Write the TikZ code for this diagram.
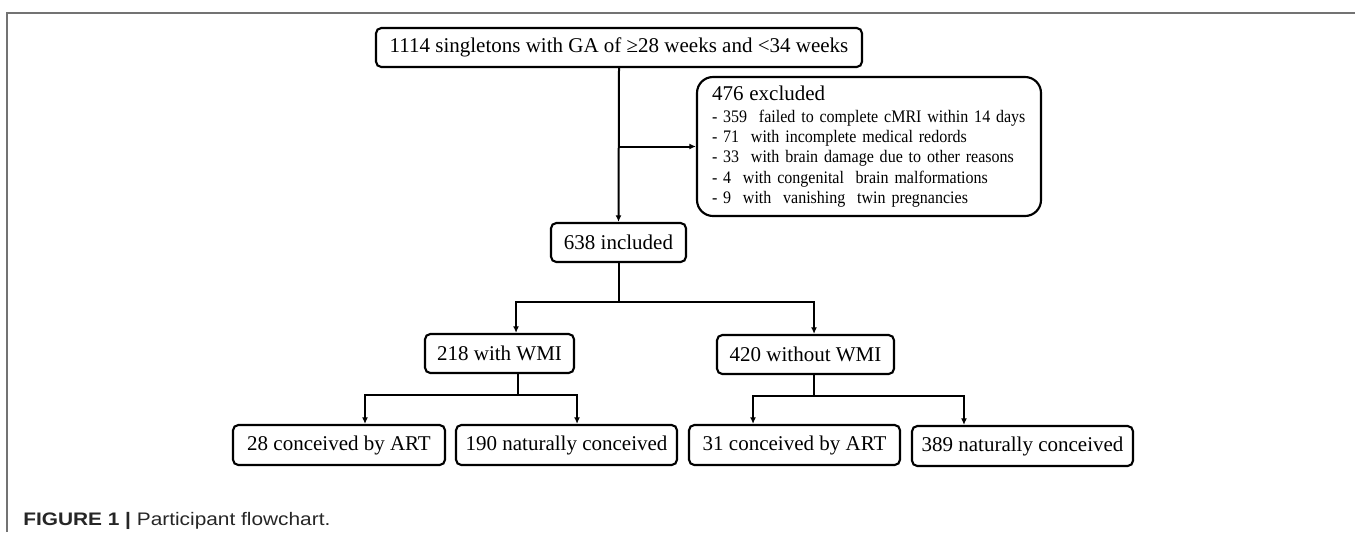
\documentclass[tikz,border=0pt]{standalone}
\usepackage{fontspec}
\setmainfont{Liberation Serif}
\newfontfamily\listfont[FakeStretch=0.91]{Liberation Serif}
\newfontfamily\capfont[FakeStretch=1.15]{Liberation Sans}
\usetikzlibrary{arrows.meta,positioning}

\begin{document}
\begin{tikzpicture}[x=0.75pt, y=-0.75pt,
    >={Latex[length=5pt,width=4.5pt]},
    every node/.append style={align=center},
    line/.style={line width=1.5pt},
    box/.style={draw, line width=1.6pt, rounded corners=4pt, inner sep=0pt,
      minimum height=29.25pt, font=\fontsize{15.75}{18}\selectfont},
    list/.style={draw, line width=1.6pt, rounded corners=12pt, inner sep=0pt,
      minimum width=258pt, minimum height=104.25pt, align=left,
      text width=235.5pt, font=\listfont\fontsize{13.2}{15.2}\selectfont}]
   \useasboundingbox (0,0) rectangle (1355,532);
   \draw[black!55, line width=1.5pt] (7,532) -- (7,13) -- (1355,13);

   % boxes
   \node [box, minimum width=364.5pt] (all) at (619,47.5)
     {1114 singletons with GA of ≥28 weeks and <34 weeks};
   \node [list] (exc) at (869,146.5)
     {{\rmfamily\fontsize{15.75}{18}\selectfont 476 excluded}\\[1.3pt]
      - 359\ \ failed to complete cMRI within 14 days\\
      - 71\ \ with incomplete medical redords\\
      - 33\ \ with brain damage due to other reasons\\
      - 4\ \ with congenital\ \ brain malformations\\
      - 9\ \ with\ \ vanishing\ \ twin pregnancies};
   \node [box, minimum width=101.25pt] (inc) at (618.5,242.5) {638 included};
   \node [box, minimum width=111.75pt] (wmi) at (499.5,353.5) {218 with WMI};
   \node [box, minimum width=132.75pt] (nwmi) at (805.5,354.5) {420 without WMI};
   \node [box, minimum width=159pt, minimum height=30pt] (wart) at (339,445)
     {28 conceived by ART};
   \node [box, minimum width=165.75pt, minimum height=30pt] (wnat) at (566.5,445)
     {190 naturally conceived};
   \node [box, minimum width=158.25pt, minimum height=30pt] (nart) at (794.5,445)
     {31 conceived by ART};
   \node [box, minimum width=165.75pt, minimum height=30pt] (nnat) at (1022.5,446)
     {389 naturally conceived};

   % connectors
   \draw[line, ->] (all.south) -- (inc.north);
   \draw[line, ->] (all.south |- exc.west) -- (exc.west);
   \draw[line] (inc.south) -- ++(0,39) coordinate (b1);
   \draw[line, ->] (b1) -| ([xshift=12.4pt]wmi.north);
   \draw[line, ->] (b1) -| ([xshift=6.4pt]nwmi.north);
   \draw[line] ([xshift=13.5pt]wmi.south) -- ++(0,21) coordinate (b2);
   \draw[line, ->] (b2) -| ([xshift=19.5pt]wart.north);
   \draw[line, ->] (b2) -| ([xshift=7.9pt]wnat.north);
   \draw[line] ([xshift=6.4pt]nwmi.south) -- ++(0,21) coordinate (b3);
   \draw[line, ->] (b3) -| ([xshift=-31.1pt]nart.north);
   \draw[line, ->] (b3) -| ([xshift=-43.9pt]nnat.north);

   % caption
   \node [anchor=base west, inner sep=0pt, text=black!85,
     font=\capfont\fontsize{13.6}{16}\selectfont] (cap) at (23,525)
     {\textbf{FIGURE 1 |} Participant flowchart.};
\end{tikzpicture}
\end{document}
